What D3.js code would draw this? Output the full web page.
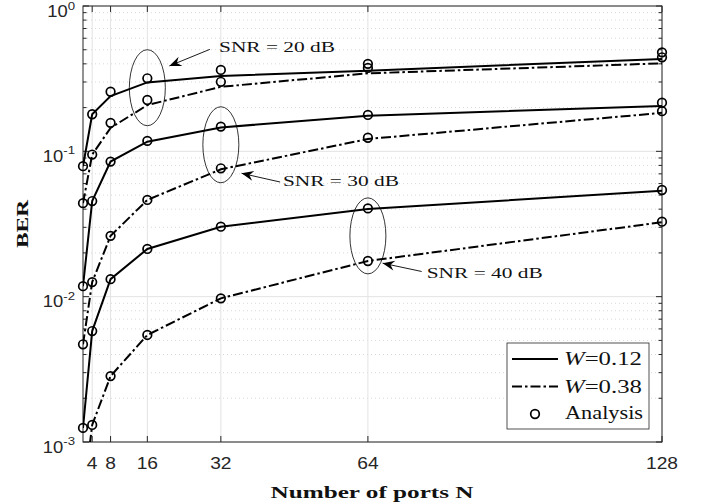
<!DOCTYPE html>
<html>
<head>
<meta charset="utf-8">
<script src="https://cdn.jsdelivr.net/npm/d3@7"></script>
<style>
body { margin: 0; background: #fff; }
svg { display: block; }
</style>
</head>
<body>
<div id="chart"></div>
<script>
// Number of ports on the x axis
const ports = [2, 4, 8, 16, 32, 64, 128];
const xTicks = [4, 8, 16, 32, 64, 128];
const yTicks = [1, 0.1, 0.01, 0.001];
const yTickExp = ["0", "-1", "-2", "-3"];

// Simulated BER (lines)
const sim20w12 = [0.079, 0.18, 0.24, 0.298, 0.33, 0.359, 0.432];
const sim20w38 = [0.044, 0.095, 0.145, 0.208, 0.278, 0.344, 0.403];
const sim30w12 = [0.0118, 0.0455, 0.085, 0.1165, 0.146, 0.176, 0.205];
const sim30w38 = [0.0047, 0.0126, 0.0262, 0.0463, 0.0752, 0.1216, 0.184];
const sim40w12 = [0.00125, 0.0058, 0.0132, 0.0213, 0.0303, 0.0401, 0.0536];
const sim40w38 = [0.0004, 0.00131, 0.00284, 0.00545, 0.00974, 0.0176, 0.0325];

// Analytical BER (circles)
const ana20w12 = [0.079, 0.18, 0.257, 0.318, 0.363, 0.40, 0.48];
const ana20w38 = [0.044, 0.095, 0.157, 0.2255, 0.301, 0.375, 0.4436];
const ana30w12 = [0.0118, 0.0455, 0.085, 0.118, 0.148, 0.178, 0.216];
const ana30w38 = [0.0047, 0.0126, 0.0262, 0.0463, 0.0764, 0.124, 0.189];
const ana40w12 = [0.00125, 0.0058, 0.0132, 0.0213, 0.0303, 0.0405, 0.0542];
const ana40w38 = [0.0004, 0.00131, 0.00284, 0.00545, 0.00974, 0.0176, 0.0328];

// SNR annotations (data coordinates)
const snrLabels = ["SNR = 20 dB", "SNR = 30 dB", "SNR = 40 dB"];
const ellipseAt = [[16, 0.274], [32, 0.111], [64, 0.0262]];
const arrowTail = [[29.6, 0.503], [44.9, 0.0615], [75.7, 0.0149]];
const arrowTip = [[20.8, 0.387], [36.5, 0.0706], [67.2, 0.0170]];
const labelAt = [[31.6, 0.479], [45.5, 0.0573], [76.8, 0.01337]];

const dashDot = "10,3,2.5,3";
const series = [
    { sim: sim20w12, ana: ana20w12, dash: null },
    { sim: sim20w38, ana: ana20w38, dash: dashDot },
    { sim: sim30w12, ana: ana30w12, dash: null },
    { sim: sim30w38, ana: ana30w38, dash: dashDot },
    { sim: sim40w12, ana: ana40w12, dash: null },
    { sim: sim40w38, ana: ana40w38, dash: dashDot }
];

const width = 707, height = 502;
const plotL = 83, plotR = 662, plotT = 6, plotB = 442;
const axisColor = "#262626";
const sans = "'Liberation Sans', Arial, sans-serif";
const serif = "'Liberation Serif', 'Times New Roman', serif";

const svg = d3.select("#chart").append("svg")
    .attr("width", width)
    .attr("height", height);

const x = d3.scaleLinear().domain([2, 128]).range([plotL, plotR]);
const y = d3.scaleLog().domain([1e-3, 1]).range([plotB, plotT]);

svg.append("defs").append("clipPath").attr("id", "plot-clip")
    .append("rect")
    .attr("x", plotL).attr("y", plotT)
    .attr("width", plotR - plotL).attr("height", plotB - plotT);

// Minor y values (2..9 per decade)
let minorY = [];
[1e-3, 1e-2, 1e-1].forEach(d => {
    for (let k = 2; k <= 9; k++) minorY.push(k * d);
});

let grid = svg.append("g").attr("class", "grid");

grid.selectAll(".minor")
    .data(minorY)
    .enter().append("line")
    .attr("x1", plotL).attr("x2", plotR)
    .attr("y1", d => y(d)).attr("y2", d => y(d))
    .attr("stroke", "#cfcfcf")
    .attr("stroke-width", 0.8)
    .attr("stroke-dasharray", "1,3");

grid.selectAll(".majory")
    .data(yTicks)
    .enter().append("line")
    .attr("x1", plotL).attr("x2", plotR)
    .attr("y1", d => y(d)).attr("y2", d => y(d))
    .attr("stroke", "#e3e3e3")
    .attr("stroke-width", 1);

grid.selectAll(".majorx")
    .data(xTicks)
    .enter().append("line")
    .attr("x1", d => x(d)).attr("x2", d => x(d))
    .attr("y1", plotT).attr("y2", plotB)
    .attr("stroke", "#e3e3e3")
    .attr("stroke-width", 1);

// Axis box and inward ticks
let axes = svg.append("g").attr("class", "axes")
    .attr("stroke", axisColor).attr("fill", "none");

axes.append("rect")
    .attr("x", plotL).attr("y", plotT)
    .attr("width", plotR - plotL).attr("height", plotB - plotT)
    .attr("stroke-width", 1);

xTicks.forEach(t => {
    axes.append("line").attr("x1", x(t)).attr("x2", x(t)).attr("y1", plotB).attr("y2", plotB - 6);
    axes.append("line").attr("x1", x(t)).attr("x2", x(t)).attr("y1", plotT).attr("y2", plotT + 6);
});
yTicks.forEach(t => {
    axes.append("line").attr("x1", plotL).attr("x2", plotL + 6).attr("y1", y(t)).attr("y2", y(t));
    axes.append("line").attr("x1", plotR).attr("x2", plotR - 6).attr("y1", y(t)).attr("y2", y(t));
});
minorY.forEach(t => {
    axes.append("line").attr("x1", plotL).attr("x2", plotL + 3.5).attr("y1", y(t)).attr("y2", y(t));
    axes.append("line").attr("x1", plotR).attr("x2", plotR - 3.5).attr("y1", y(t)).attr("y2", y(t));
});

// Tick labels
svg.append("g")
    .selectAll("text")
    .data(xTicks)
    .enter().append("text")
    .attr("transform", d => `translate(${x(d)},469) scale(1.2,1)`)
    .attr("text-anchor", "middle")
    .attr("font-family", sans)
    .attr("font-size", 16)
    .attr("fill", axisColor)
    .text(d => d);

let yl = svg.append("g")
    .selectAll("text")
    .data(yTicks)
    .enter().append("text")
    .attr("transform", d => `translate(75,${Math.max(y(d) + 10.5, 17)}) scale(1.15,1)`)
    .attr("text-anchor", "end")
    .attr("font-family", sans)
    .attr("font-size", 16)
    .attr("fill", axisColor);
yl.append("tspan").text("10");
yl.append("tspan")
    .attr("font-size", 11.5)
    .attr("dy", -7.5)
    .text((d, i) => yTickExp[i]);

// Axis titles
svg.append("text")
    .attr("x", 372).attr("y", 498)
    .attr("text-anchor", "middle")
    .attr("font-family", serif)
    .attr("font-weight", "bold")
    .attr("font-size", 17)
    .attr("textLength", 203)
    .attr("lengthAdjust", "spacingAndGlyphs")
    .attr("fill", "#111")
    .text("Number of ports N");

svg.append("text")
    .attr("transform", "translate(28,224) rotate(-90)")
    .attr("text-anchor", "middle")
    .attr("font-family", serif)
    .attr("font-weight", "bold")
    .attr("font-size", 17.5)
    .attr("textLength", 48)
    .attr("lengthAdjust", "spacingAndGlyphs")
    .attr("fill", "#111")
    .text("BER");

// Curves (lines clipped to the axes, markers drawn whole)
let plot = svg.append("g").attr("clip-path", "url(#plot-clip)");
let marks = svg.append("g");

let line = d3.line()
    .x((d, i) => x(ports[i]))
    .y(d => y(d));

series.forEach(s => {
    plot.append("path")
        .datum(s.sim)
        .attr("d", line)
        .attr("fill", "none")
        .attr("stroke", "#000")
        .attr("stroke-width", 2)
        .attr("stroke-dasharray", s.dash);
});

series.forEach(s => {
    let pts = s.ana.map((v, i) => ({ n: ports[i], v: v }))
        .filter(p => p.v >= 1e-3 && p.v <= 1);
    marks.selectAll(null)
        .data(pts)
        .enter().append("circle")
        .attr("cx", d => x(d.n))
        .attr("cy", d => y(d.v))
        .attr("r", 4.3)
        .attr("fill", "none")
        .attr("stroke", "#000")
        .attr("stroke-width", 1.7);
});

// SNR annotations
let notes = svg.append("g");

ellipseAt.forEach(e => {
    notes.append("ellipse")
        .attr("cx", x(e[0])).attr("cy", y(e[1]))
        .attr("rx", 18).attr("ry", 38)
        .attr("fill", "none")
        .attr("stroke", "#000")
        .attr("stroke-width", 0.8);
});

arrowTail.forEach((t, i) => {
    let x0 = x(t[0]), y0 = y(t[1]);
    let x1 = x(arrowTip[i][0]), y1 = y(arrowTip[i][1]);
    let ang = Math.atan2(y1 - y0, x1 - x0) * 180 / Math.PI;
    notes.append("line")
        .attr("x1", x0).attr("y1", y0)
        .attr("x2", x1).attr("y2", y1)
        .attr("stroke", "#000")
        .attr("stroke-width", 0.9);
    notes.append("path")
        .attr("d", "M0,0 L-12,-5 L-8,0 L-12,5 Z")
        .attr("transform", `translate(${x1},${y1}) rotate(${ang})`)
        .attr("fill", "#000");
});

labelAt.forEach((p, i) => {
    notes.append("text")
        .attr("x", x(p[0])).attr("y", y(p[1]))
        .attr("font-family", serif)
        .attr("font-size", 15.5)
        .attr("textLength", 116)
        .attr("lengthAdjust", "spacingAndGlyphs")
        .attr("fill", "#111")
        .text(snrLabels[i]);
});

// Legend
let legend = svg.append("g").attr("class", "legend");
legend.append("rect")
    .attr("x", 507).attr("y", 343)
    .attr("width", 142).attr("height", 86)
    .attr("fill", "#fff")
    .attr("stroke", axisColor)
    .attr("stroke-width", 0.8);

const legendRows = [
    { dash: null, w: "=0.12" },
    { dash: dashDot, w: "=0.38" }
];
legendRows.forEach((r, i) => {
    let ly = 359 + i * 27.5;
    legend.append("line")
        .attr("x1", 512).attr("x2", 558)
        .attr("y1", ly).attr("y2", ly)
        .attr("stroke", "#000")
        .attr("stroke-width", 2)
        .attr("stroke-dasharray", r.dash);
    let t = legend.append("text")
        .attr("x", 564).attr("y", ly + 6)
        .attr("font-family", serif)
        .attr("font-size", 18)
        .attr("textLength", 78)
        .attr("lengthAdjust", "spacingAndGlyphs")
        .attr("fill", "#111");
    t.append("tspan").attr("font-style", "italic").text("W");
    t.append("tspan").text(r.w);
});

legend.append("circle")
    .attr("cx", 535).attr("cy", 414)
    .attr("r", 4.3)
    .attr("fill", "none")
    .attr("stroke", "#000")
    .attr("stroke-width", 1.7);
legend.append("text")
    .attr("x", 565).attr("y", 419)
    .attr("font-family", serif)
    .attr("font-size", 18)
    .attr("textLength", 78)
    .attr("lengthAdjust", "spacingAndGlyphs")
    .attr("fill", "#111")
    .text("Analysis");
</script>
</body>
</html>
